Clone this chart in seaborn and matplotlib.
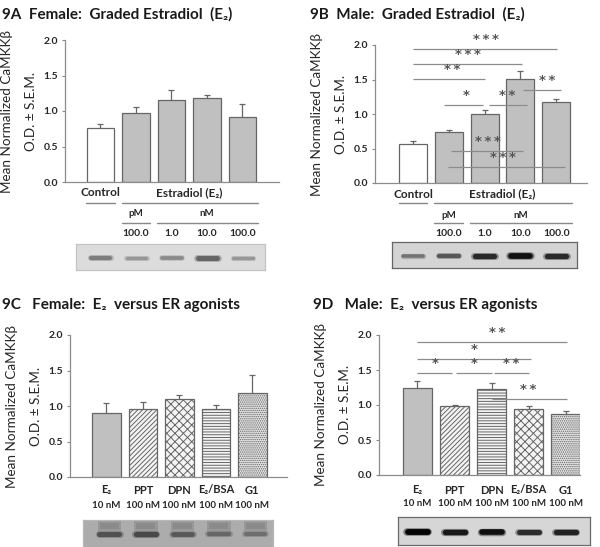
""" CaMKKbeta western blot summary, figure 9 (four panels). """
import pandas as pd
import seaborn as sns
import matplotlib.pyplot as plt
from matplotlib import transforms

W, H = 600, 547

# ---- data ----
graded_groups = ['Control', 'E2 100 pM', 'E2 1 nM', 'E2 10 nM', 'E2 100 nM']
graded_doses = ['100.0', '1.0', '10.0', '100.0']
female_graded = [0.76, 0.97, 1.15, 1.19, 0.91]
female_graded_sem = [0.06, 0.08, 0.15, 0.04, 0.19]
male_graded = [0.57, 0.74, 1.00, 1.51, 1.18]
male_graded_sem = [0.04, 0.03, 0.06, 0.12, 0.04]

female_agonist_names = ['E₂', 'PPT', 'DPN', 'E₂/BSA', 'G1']
male_agonist_names = ['E₂', 'PPT', 'DPN', 'E₂/BSA', 'G1']
agonist_doses = ['10 nM', '100 nM', '100 nM', '100 nM', '100 nM']
female_agonists = [0.90, 0.96, 1.10, 0.96, 1.19]
female_agonists_sem = [0.14, 0.09, 0.05, 0.05, 0.25]
male_agonists = [1.25, 0.99, 1.23, 0.94, 0.87]
male_agonists_sem = [0.10, 0.01, 0.09, 0.05, 0.04]

# significance bars: (from, to, height, stars, star position)
male_graded_sig = [
    (0, 4.02, 1.94, 3, 2.04),
    (0, 3.05, 1.72, 3, 1.54),
    (0, 2.0, 1.51, 2, 1.09),
    (0.87, 1.96, 1.13, 1, 1.48),
    (2.12, 3.18, 1.13, 2, 2.63),
    (3.07, 4.13, 1.35, 2, 3.74),
    (1.06, 3.07, 0.46, 3, 2.10),
    (0.98, 4.25, 0.23, 3, 2.51),
]
male_agonist_sig = [
    (0, 4.04, 1.90, 2, 2.15),
    (0, 3.07, 1.66, 1, 1.53),
    (0, 0.93, 1.46, 1, 0.47),
    (1.04, 2.0, 1.46, 1, 1.53),
    (2.07, 3.02, 1.46, 2, 2.53),
    (2.0, 4.04, 1.08, 2, 3.00),
]

# relative band strength on the blots (0 = faint, 1 = dark)
blot_female_graded = [0.60, 0.40, 0.50, 0.80, 0.40]
blot_male_graded = [0.45, 0.60, 0.85, 0.98, 0.85]
blot_female_agonists = [0.80, 0.85, 0.75, 0.65, 0.60]
blot_male_agonists = [1.00, 0.90, 0.95, 0.80, 0.85]

sns.set_style("white")
plt.rcParams['font.family'] = ['Lato', 'DejaVu Sans']
plt.rcParams['hatch.linewidth'] = 0.7

GRAY = '#c0c0c0'
EDGE = '#666666'
TXT = '#262626'

fig = plt.figure(figsize=(W / 100, H / 100), dpi=100)


def px_axes(x0, y0, x1, y1):
    """ Axes from pixel box (top-left origin)."""
    return fig.add_axes([x0 / W, 1 - y1 / H, (x1 - x0) / W, (y1 - y0) / H])


def fy(py):
    return 1 - py / H


def bar_panel(rect, xlim, values, sem, colors, hatches):
    ax = px_axes(*rect)
    dframe = pd.DataFrame({'group': range(len(values)), 'value': values})
    sns.barplot(data=dframe, x='group', y='value', hue='group',
                palette=colors, legend=False, width=0.78,
                edgecolor=EDGE, linewidth=0.9, errorbar=None, ax=ax,
                zorder=2)
    for patch, hatch in zip(ax.patches, hatches):
        if hatch:
            patch.set_hatch(hatch)
    ax.errorbar(range(len(values)), values, yerr=sem, fmt='none',
                ecolor=EDGE, elinewidth=0.9, capsize=2.5, capthick=0.9,
                zorder=1)
    ax.set_xlim(*xlim)
    ax.set_ylim(0, 2.0)
    ax.set_yticks([0, 0.5, 1.0, 1.5, 2.0])
    ax.set_yticklabels(['0.0', '0.5', '1.0', '1.5', '2.0'],
                       fontweight='bold', fontsize=7.5, color=TXT)
    ax.set_xticks([])
    ax.set(xlabel='', ylabel='')
    ax.tick_params(axis='y', length=2, width=0.8, color='#888888', pad=3,
                   left=True)
    sns.despine(ax=ax)
    for side in ('left', 'bottom'):
        ax.spines[side].set_color('#8c8c8c')
        ax.spines[side].set_linewidth(0.9)
    yc = (rect[1] + rect[3]) / 2
    fig.text((rect[0] - 58) / W, fy(yc), 'Mean Normalized CaMKKβ',
             rotation=90, ha='center', va='center', fontsize=9.7, color=TXT)
    fig.text((rect[0] - 34) / W, fy(yc), 'O.D. ± S.E.M.',
             rotation=90, ha='center', va='center', fontsize=9.7, color=TXT)
    return ax


def significance(ax, marks):
    for x0, x1, y, n_stars, xs in marks:
        ax.hlines(y, x0, x1, color='#8c8c8c', lw=0.9, zorder=3)
        ax.text(xs, y + 0.045, '\u2009'.join('*' * n_stars), ha='center',
                va='bottom', fontsize=9.5, family='DejaVu Sans',
                fontweight='bold', color='#555555', zorder=4)


def graded_labels(ax, y_rows):
    trans = transforms.blended_transform_factory(ax.transData, fig.transFigure)
    r1, r2, r3, r4, r5 = y_rows
    ax.text(0, fy(r1), 'Control', transform=trans, ha='center', va='center',
            fontsize=8.5, fontweight='bold', color=TXT)
    ax.text(2.5, fy(r1), 'Estradiol (E₂)', transform=trans, ha='center',
            va='center', fontsize=8.5, fontweight='bold', color=TXT)
    kw = dict(transform=trans, color='#888888', lw=1.0, clip_on=False)
    ax.plot([-0.4, 0.4], [fy(r2)] * 2, **kw)
    ax.plot([0.6, 4.45], [fy(r2)] * 2, **kw)
    ax.text(1, fy(r3), 'pM', transform=trans, ha='center', va='center',
            fontsize=7, fontweight='bold', color=TXT)
    ax.text(3, fy(r3), 'nM', transform=trans, ha='center', va='center',
            fontsize=7, fontweight='bold', color=TXT)
    ax.plot([0.6, 1.4], [fy(r4)] * 2, **kw)
    ax.plot([1.6, 4.45], [fy(r4)] * 2, **kw)
    for i, dose in enumerate(graded_doses):
        ax.text(i + 1, fy(r5), dose, transform=trans, ha='center',
                va='center', fontsize=7.5, fontweight='bold', color=TXT)


def agonist_labels(ax, names, y_rows):
    trans = transforms.blended_transform_factory(ax.transData, fig.transFigure)
    for i, (name, dose) in enumerate(zip(names, agonist_doses)):
        ax.text(i, fy(y_rows[0]), name, transform=trans, ha='center',
                va='center', fontsize=8, fontweight='bold', color=TXT)
        ax.text(i, fy(y_rows[1]), dose, transform=trans, ha='center',
                va='center', fontsize=7, fontweight='bold', color=TXT)


def blot(rect, xlim, strength, face, edge, dark, smudge=None, shift=0.0):
    ax = px_axes(*rect)
    ax.set_xlim(*xlim)
    ax.set_ylim(0, 1)
    ax.set_facecolor(face)
    for spine in ax.spines.values():
        spine.set_visible(True)
        spine.set_color(edge)
        spine.set_linewidth(0.9)
    ax.set_xticks([])
    ax.set_yticks([])
    for i, s in enumerate(strength):
        x = i + shift
        level = dark + (1 - s) * (0.78 - dark)
        if smudge is not None:
            ax.fill_between([x - 0.32, x + 0.32], 0.58, 0.95,
                            color=str(smudge), lw=0, alpha=0.35)
            ax.fill_between([x - 0.26, x + 0.26], 0.66, 0.90,
                            color=str(smudge), lw=0, alpha=0.35)
        ax.plot([x - 0.29, x + 0.29], [0.48, 0.48], color=str(level),
                lw=2.5 + 3 * s, alpha=0.4, solid_capstyle='round')
        ax.plot([x - 0.27, x + 0.27], [0.48, 0.48], color=str(level),
                lw=1.2 + 3 * s, solid_capstyle='round')
    return ax


# 9A
ax_a = bar_panel((65, 40, 279, 182), (-1.0, 5.03), female_graded,
                 female_graded_sem, ['white'] + [GRAY] * 4, [None] * 5)
graded_labels(ax_a, (193, 203, 213, 223, 233))
blot((76, 244, 265, 270), (-0.70, 4.62), blot_female_graded,
     '#dcdcdc', '#c4c4c4', 0.30)

# 9B
ax_b = bar_panel((375, 45, 587, 183), (-1.06, 4.86), male_graded,
                 male_graded_sem, ['white'] + [GRAY] * 4, [None] * 5)
significance(ax_b, male_graded_sig)
graded_labels(ax_b, (194, 203, 215, 223, 234))
blot((392, 242, 577, 268), (-0.59, 4.58), blot_male_graded,
     '#d4d4d4', '#666666', 0.05)

# 9C
agonist_face = [GRAY, '#f4f4f4', '#f4f4f4', '#f4f4f4', '#e6e6e6']
ax_c = bar_panel((70, 335, 287, 477), (-1.0, 4.95), female_agonists,
                 female_agonists_sem, agonist_face,
                 [None, '///////', 'xxxx', '------', '........'])
agonist_labels(ax_c, female_agonist_names, (490, 506))
blot((83, 520, 273, 547), (-0.64, 4.56), blot_female_agonists,
     '#acacac', '#b8b8b8', 0.20, smudge=0.45, shift=0.08)

# 9D
ax_d = bar_panel((379, 335, 580, 475), (-1.04, 4.39), male_agonists,
                 male_agonists_sem, agonist_face,
                 [None, '///////', '------', 'xxxx', '........'])
significance(ax_d, male_agonist_sig)
agonist_labels(ax_d, male_agonist_names, (490, 503))
blot((398, 517, 590, 545), (-0.53, 4.66), blot_male_agonists,
     '#d6d6d6', '#6a6a6a', 0.02)

# panel titles
title_kw = dict(fontsize=11, fontweight='bold', color='#1a1a1a', va='center')
fig.text(2 / W, fy(14), '9A  Female:  Graded Estradiol  (E₂)', **title_kw)
fig.text(310 / W, fy(14), '9B  Male:  Graded Estradiol  (E₂)', **title_kw)
fig.text(2 / W, fy(305), '9C   Female:  E₂  versus ER agonists', **title_kw)
fig.text(313 / W, fy(305), '9D   Male:  E₂  versus ER agonists', **title_kw)

fig.savefig('out.png', dpi=100)
